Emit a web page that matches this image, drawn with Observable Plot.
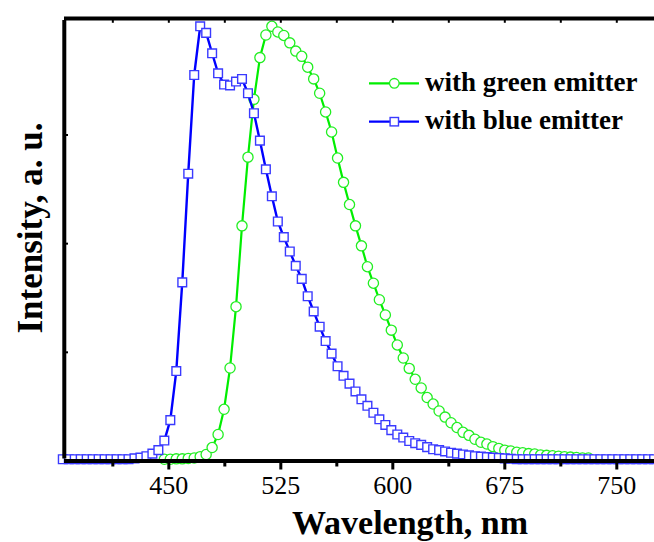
<!DOCTYPE html>
<html>
<head>
<meta charset="utf-8">
<script src="https://cdn.jsdelivr.net/npm/d3@7"></script>
<script src="https://cdn.jsdelivr.net/npm/@observablehq/plot@0.6"></script>
<style>
  html, body { margin: 0; padding: 0; background: #fff; }
  #chart svg { display: block; }
</style>
</head>
<body>
<div id="chart"></div>
<script>
// ---- Data ----
const blueWavelength = [379,383,387,391,395,399,403,407,411,415,419,423,427,431,435,439,443,447,451,455,459,463,467,471,475,479,483,487,491,495,499,503,507,511,515,519,523,527,531,535,539,543,547,551,555,559,563,567,571,575,579,583,587,591,595,599,603,607,611,615,619,623,627,631,635,639,643,647,651,655,659,663,667,671,675,679,683,687,691,695,699,703,707,711,715,719,723,727,731,735,739,743,747,751,755,759,763,767,771,775,779];
const blueIntensity = [0.004,0.004,0.004,0.004,0.004,0.004,0.004,0.004,0.004,0.004,0.004,0.004,0.006,0.008,0.011,0.017,0.025,0.047,0.094,0.207,0.411,0.661,0.888,1.0,0.985,0.938,0.892,0.866,0.864,0.873,0.879,0.846,0.800,0.737,0.671,0.609,0.551,0.515,0.482,0.449,0.419,0.379,0.344,0.309,0.276,0.247,0.218,0.196,0.178,0.160,0.142,0.127,0.111,0.096,0.083,0.071,0.061,0.054,0.046,0.041,0.037,0.032,0.027,0.025,0.022,0.019,0.017,0.015,0.013,0.011,0.010,0.009,0.008,0.007,0.006,0.005,0.004,0.004,0.004,0.004,0.004,0.004,0.004,0.004,0.004,0.004,0.004,0.004,0.004,0.004,0.004,0.004,0.004,0.004,0.004,0.004,0.004,0.004,0.004,0.004,0.004];

const greenWavelength = [447,451,455,459,463,467,471,475,479,483,487,491,495,499,503,507,511,515,519,523,527,531,535,539,543,547,551,555,559,563,567,571,575,579,583,587,591,595,599,603,607,611,615,619,623,627,631,635,639,643,647,651,655,659,663,667,671,675,679,683,687,691,695,699,703,707,711,715,719,723,727,731];
const greenIntensity = [0.004,0.004,0.005,0.005,0.006,0.007,0.010,0.015,0.031,0.061,0.119,0.214,0.355,0.541,0.699,0.832,0.928,0.980,1.0,0.987,0.979,0.962,0.943,0.931,0.906,0.879,0.846,0.803,0.757,0.697,0.641,0.590,0.541,0.495,0.447,0.409,0.371,0.336,0.301,0.267,0.237,0.213,0.188,0.168,0.146,0.131,0.115,0.101,0.088,0.077,0.066,0.059,0.050,0.043,0.039,0.033,0.029,0.025,0.023,0.020,0.019,0.017,0.016,0.014,0.013,0.012,0.011,0.010,0.009,0.008,0.007,0.007];

const majorTicks = [450, 525, 600, 675, 750];
const minorTicks = [412.5, 487.5, 562.5, 637.5, 712.5];
const allXTicks = [412.5, 450, 487.5, 525, 562.5, 600, 637.5, 675, 712.5, 750];
const yTicks = [0.25, 0.5, 0.75];

const seriesNames = ["with green emitter", "with blue emitter"];
const xLabel = "Wavelength, nm";
const yLabel = "Intensity, a. u.";

// ---- Build tables ----
const blue = blueWavelength.map((w, i) => ({w, v: blueIntensity[i]}));
const green = greenWavelength.map((w, i) => ({w, v: greenIntensity[i]}));

const GREEN_LINE = "#00ee00", GREEN_MARK = "#22ee22";
const BLUE_LINE = "#0000ff", BLUE_MARK = "#3a3aff";
const FONT = "'Liberation Serif', 'Times New Roman', serif";

const xMin = 380, xMax = 780, yMin = 0, yMax = 1.018;

const chart = Plot.plot({
  width: 654,
  height: 542,
  marginLeft: 64, marginRight: 0, marginTop: 18, marginBottom: 81.5,
  style: {fontFamily: FONT, fontSize: "26px", fontWeight: "normal", color: "#000", background: "#fff", overflow: "hidden"},
  x: {domain: [xMin, xMax], range: [63.8, 661.1], axis: null},
  y: {domain: [yMin, yMax], range: [460.5, 18], axis: null},
  marks: [
    Plot.line(green, {x: "w", y: "v", stroke: GREEN_LINE, strokeWidth: 2.2}),
    Plot.dot(green, {x: "w", y: "v", symbol: "circle", r: 5.1, stroke: GREEN_MARK, fill: "white", strokeWidth: 1.3}),
    Plot.line(blue, {x: "w", y: "v", stroke: BLUE_LINE, strokeWidth: 2.4}),
    Plot.dot(blue, {x: "w", y: "v", symbol: "square", r: 4.9, stroke: BLUE_MARK, fill: "white", strokeWidth: 1.4}),
    // inward ticks on top and left
    Plot.ruleX(allXTicks, {x: d => d, y1: yMax, y2: yMax - 0.011, stroke: "#000", strokeWidth: 2}),
    Plot.ruleY(yTicks, {y: d => d, x1: xMin, x2: xMin + 2.8, stroke: "#000", strokeWidth: 2}),
    // bottom ticks + labels
    Plot.axisX({ticks: minorTicks, anchor: "bottom", tickSize: 6, tickFormat: () => "", strokeWidth: 3, label: null}),
    Plot.axisX({ticks: majorTicks, anchor: "bottom", tickSize: 9, tickPadding: 6, tickFormat: d => String(d), strokeWidth: 3, fill: "#000", fontSize: 26, fontWeight: "normal", label: null}),
    // frame lines
    Plot.ruleY([yMin], {stroke: "#000", strokeWidth: 4}),
    Plot.ruleY([yMax], {stroke: "#000", strokeWidth: 4}),
    Plot.ruleX([xMin], {y1: yMin, y2: yMax, stroke: "#000", strokeWidth: 4, insetTop: -2, insetBottom: -2})
  ]
});

document.getElementById("chart").appendChild(chart);

// ---- Axis titles and legend ----
const svg = d3.select(chart);
// tick labels: plain (non-bold) serif, no stroke
svg.selectAll("text").attr("font-weight", "normal").attr("stroke", "none")
  .attr("font-family", FONT).attr("font-size", 26);

svg.append("text")
  .attr("x", 410).attr("y", 534)
  .attr("text-anchor", "middle")
  .attr("font-family", FONT).attr("font-weight", "bold").attr("font-size", 34)
  .attr("fill", "#000")
  .text(xLabel);
svg.append("text")
  .attr("transform", "translate(41.5,228) rotate(-90)")
  .attr("text-anchor", "middle")
  .attr("font-family", FONT).attr("font-weight", "bold").attr("font-size", 35)
  .attr("fill", "#000")
  .text(yLabel);

const legend = svg.append("g");
const items = [
  {name: seriesNames[0], line: GREEN_LINE, mark: GREEN_MARK, sym: "circle", y: 83.3},
  {name: seriesNames[1], line: BLUE_LINE, mark: BLUE_MARK, sym: "square", y: 121.7}
];
items.forEach(it => {
  legend.append("line").attr("x1", 369).attr("x2", 419).attr("y1", it.y).attr("y2", it.y)
    .attr("stroke", it.line).attr("stroke-width", 2.2);
  if (it.sym === "circle") {
    legend.append("circle").attr("cx", 394.3).attr("cy", it.y).attr("r", 4.8)
      .attr("fill", "white").attr("stroke", it.mark).attr("stroke-width", 1.3);
  } else {
    legend.append("rect").attr("x", 394.3 - 4.2).attr("y", it.y - 4.2).attr("width", 8.4).attr("height", 8.4)
      .attr("fill", "white").attr("stroke", it.mark).attr("stroke-width", 1.4);
  }
  legend.append("text").attr("x", 425).attr("y", it.y + 7.6)
    .attr("text-anchor", "start")
    .attr("font-family", FONT).attr("font-weight", "bold").attr("font-size", 27)
    .attr("fill", "#000").text(it.name);
});
</script>
</body>
</html>
